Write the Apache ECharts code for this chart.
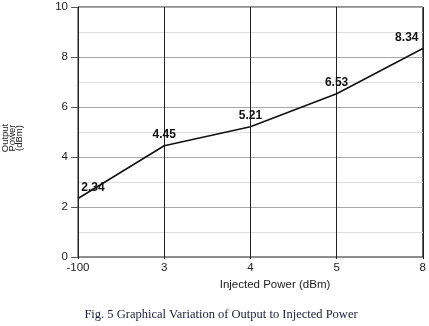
<!DOCTYPE html>
<html>
<head>
<meta charset="utf-8">
<script src="https://cdn.jsdelivr.net/npm/echarts@6/dist/echarts.min.js"></script>
<style>
  html, body { margin: 0; padding: 0; background: #fff; }
  #chart { width: 429px; height: 326px; }
</style>
</head>
<body>
<div id="chart"></div>
<script>
// Injected power levels (dBm), shown as evenly spaced categories
const injectedPower = ['-100', '3', '4', '5', '8'];
// Measured output power (dBm)
const outputPower = [2.34, 4.45, 5.21, 6.53, 8.34];
// Value axis ticks
const yTicks = [0, 2, 4, 6, 8, 10];

const yMin = yTicks[0];
const yMax = yTicks[yTicks.length - 1];
const yStep = yTicks[1] - yTicks[0];

// Horizontal nudges for the end labels so they stay inside the frame
const labelShift = [15, 0, 0, 0, -16];

const chart = echarts.init(document.getElementById('chart'), null, { renderer: 'canvas' });

chart.setOption({
  animation: false,
  backgroundColor: '#ffffff',
  grid: {
    left: 78, right: 6, top: 7, bottom: 69,
    show: true, borderColor: '#222', borderWidth: 1
  },
  xAxis: {
    type: 'category',
    data: injectedPower,
    boundaryGap: false,
    axisLine: { show: true, lineStyle: { color: '#8a8a8a', width: 1 } },
    axisTick: { show: true, length: 2, lineStyle: { color: '#222' } },
    axisLabel: { color: '#222', fontSize: 11.5, fontFamily: 'Liberation Sans, Arial, sans-serif', margin: 5 },
    splitLine: { show: true, lineStyle: { color: '#222', width: 1 } }
  },
  yAxis: {
    type: 'value',
    min: yMin, max: yMax, interval: yStep,
    axisLine: { show: true, lineStyle: { color: '#222', width: 1 } },
    axisTick: { show: true, length: 7, lineStyle: { color: '#555' } },
    axisLabel: { color: '#222', fontSize: 11.5, fontFamily: 'Liberation Sans, Arial, sans-serif', margin: 10 },
    splitLine: { show: true, lineStyle: { color: '#a8a8a8', width: 1 } },
    minorTick: { show: false, splitNumber: 2 },
    minorSplitLine: { show: true, lineStyle: { color: '#dedede', width: 1 } }
  },
  graphic: [
    {
      type: 'text',
      rotation: Math.PI / 2,
      style: {
        text: 'Output\nPower\n(dBm)',
        fill: '#222', fontSize: 9.5, lineHeight: 7,
        fontFamily: 'Liberation Sans, Arial, sans-serif',
        align: 'center', verticalAlign: 'middle'
      },
      x: 12, y: 138
    },
    {
      type: 'text',
      style: {
        text: 'Injected Power (dBm)',
        fill: '#222', fontSize: 11.5,
        fontFamily: 'Liberation Sans, Arial, sans-serif',
        align: 'center', verticalAlign: 'middle'
      },
      x: 275, y: 285
    },
    {
      type: 'text',
      style: {
        text: 'Fig. 5 Graphical Variation of Output to Injected Power',
        fill: '#1c1c3a', fontSize: 12.5,
        fontFamily: 'Liberation Serif, Times New Roman, serif',
        align: 'center', verticalAlign: 'middle'
      },
      x: 221, y: 315
    }
  ],
  series: [{
    type: 'line',
    data: outputPower.map((v, i) => ({
      value: v,
      label: { offset: [labelShift[i], 0] }
    })),
    showSymbol: true,
    symbol: 'circle',
    symbolSize: 0,
    lineStyle: { color: '#111', width: 1.5 },
    itemStyle: { color: '#111' },
    label: {
      show: true,
      position: 'top',
      distance: 5,
      color: '#111',
      fontSize: 12,
      fontWeight: 'bold',
      fontFamily: 'Liberation Sans, Arial, sans-serif',
      formatter: p => p.value.toFixed(2)
    }
  }]
});
</script>
</body>
</html>
